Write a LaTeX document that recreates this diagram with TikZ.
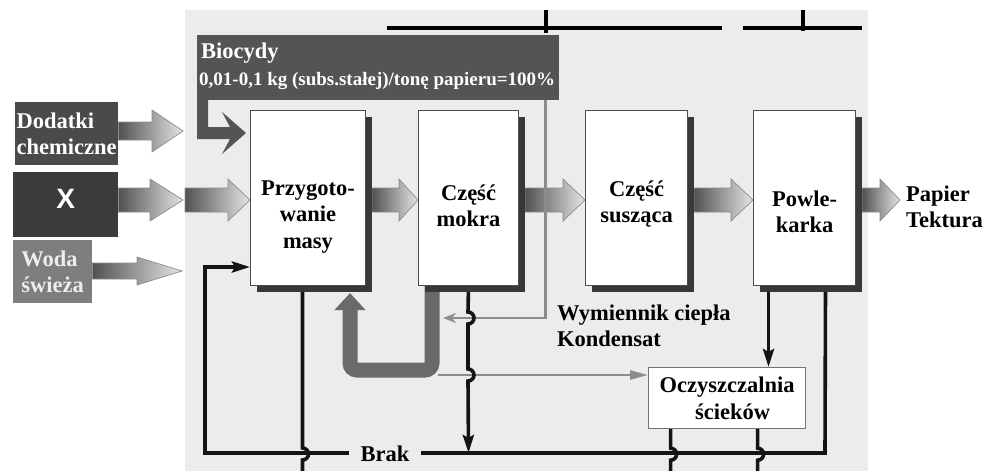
\documentclass[tikz,border=0pt]{standalone}
\usepackage{fontspec}
\setmainfont{Liberation Serif}
\newfontfamily\xsans{Liberation Sans}
\usetikzlibrary{arrows.meta,calc,shadows}
\pgfdeclarelayer{background}
\pgfdeclarelayer{behind}
\pgfsetlayers{background,behind,main}
\definecolor{bgc}{HTML}{ECECEC}
\definecolor{biofill}{HTML}{545454}
\definecolor{dodfill}{HTML}{4A4A4A}
\definecolor{xfill}{HTML}{3B3B3B}
\definecolor{wodafill}{HTML}{7E7E7E}
\definecolor{ugray}{HTML}{6A6A6A}
\definecolor{lgray}{HTML}{8C8C8C}
\newcommand\fatarrow[5]{%
  \path[fatarr] let \p1=#1, \p2=#2 in
    (\x1,\y2+#3) -- (\x2-#5,\y2+#3) -- (\x2-#5,\y2+#4) -- (\x2,\y2)
    -- (\x2-#5,\y2-#4) -- (\x2-#5,\y2-#3) -- (\x1,\y2-#3) -- cycle;}
\tikzset{
 txt/.style={font=\bfseries\fontsize{22.5}{26.5}\selectfont},
 mainbox/.style={draw=black!70, line width=1pt, fill=white, minimum height=175pt,
   anchor=north west, inner sep=0pt,
   drop shadow={shadow xshift=6pt, shadow yshift=-6pt, fill=black!78, opacity=1}},
 boxtext/.style={txt, align=center, inner sep=0pt},
 inbox/.style={anchor=north west, inner sep=0pt, txt, align=left},
 fatarr/.style={left color=black!68, right color=black!10, draw=black!45, line width=0.7pt},
 blk/.style={line width=3.6pt, black!92},
 blktip/.style={-{Stealth[length=18pt,width=11pt,inset=3pt]}},
 gline/.style={line width=2.6pt, lgray},
 uarrow/.style={line width=15pt, ugray, rounded corners=7pt, -{Triangle[width=30pt,length=17pt]}},
 topline/.style={line width=4.5pt, black},
}
\begin{document}
\begin{tikzpicture}[x=1pt,y=-1pt]
\useasboundingbox (0,0) rectangle (1001,471);
\begin{pgfonlayer}{background}
  \fill[bgc] (185,10) rectangle (868,471);
\end{pgfonlayer}

% main boxes
\node[mainbox, minimum width=115pt] (prz) at (250,110) {};
\node[mainbox, minimum width=100pt] (mok) at (418,110) {};
\node[mainbox, minimum width=102pt] (sus) at (585,110) {};
\node[mainbox, minimum width=102pt] (pow) at (753,110) {};
\node[boxtext] (prztxt) at ($(prz.center)+(0,19)$) {Przygoto-\\wanie\\masy};
\node[boxtext] (moktxt) at ($(mok.center)+(0,8)$) {Część\\mokra};
\node[boxtext] (sustxt) at ($(sus.center)+(0,6)$) {Część\\susząca};
\node[boxtext] (powtxt) at ($(pow.center)+(0,14)$) {Powle-\\karka};

% input boxes
\node[inbox, fill=dodfill, text=white, minimum width=103pt, minimum height=63pt] (dod) at (15,102) {Dodatki\\chemiczne};
\node[anchor=north west, fill=xfill, text=white, minimum width=105pt, minimum height=65pt, inner sep=0pt,
  font=\xsans\bfseries\fontsize{28}{30}\selectfont, text height=20pt, text depth=12pt] (xb) at (13,172) {X};
\node[inbox, fill=wodafill, text=black!7, minimum width=79pt, minimum height=63pt] (woda) at (13,240) {Woda\\świeża};

% biocydy
\node[anchor=north west, fill=biofill, minimum width=362pt, minimum height=65pt, inner sep=0pt] (bio) at (197,35) {};
\node[anchor=west, text=white, txt, inner sep=0pt] (bio1) at (201,53) {Biocydy};
\node[anchor=west, text=white, font=\bfseries\fontsize{19}{22}\selectfont, inner sep=0pt] (bio2) at (199,81) {0,01-0,1 kg (subs.stałej)/tonę papieru=100\%};
\fill[biofill] (197,100) -- (197,139) -- (230,139) -- (222,154) -- (246,133) -- (222,112) -- (230,127) -- (208,127) -- (208,100) -- cycle;

% other nodes
\node[anchor=north west, draw=black!55, line width=1.2pt, fill=white, minimum width=157pt, minimum height=61pt,
  inner sep=0pt, txt, align=center] (ocz) at (648,367) {Oczyszczalnia\\\hspace*{11pt}ścieków};
\node[txt, anchor=west, align=left, inner sep=0pt] (pap) at (906,207) {Papier\\Tektura};
\node[txt, anchor=west, align=left, inner sep=0pt] (wym) at (557,326) {Wymiennik ciepła\\Kondensat};
\node[txt, fill=bgc, inner xsep=12pt, inner ysep=1pt] (brak) at (385,454) {Brak};

\begin{pgfonlayer}{behind}
  % top lines
  \coordinate (t1a) at (387,28); \coordinate (t1b) at (722,28);
  \coordinate (t1c) at (546,10); \coordinate (t1d) at (546,33);
  \coordinate (t2a) at (743,28); \coordinate (t2b) at (862,28);
  \coordinate (t2c) at (803,10); \coordinate (t2d) at (803,31);
  \draw[topline] (t1a) -- (t1b);
  \draw[topline] (t1c) -- (t1d);
  \draw[topline] (t2a) -- (t2b);
  \draw[topline] (t2c) -- (t2d);

  % fat arrows
  \coordinate (dodE) at (183,131);
  \fatarrow{(dod.east)}{(dodE)}{9pt}{21pt}{31pt}
  \coordinate (xE) at (183,200);
  \fatarrow{(xb.east)}{(xE)}{12pt}{21pt}{33pt}
  \coordinate (xS) at (185,200);
  \fatarrow{(xS)}{(xS -| prz.west)}{12pt}{21pt}{22pt}
  \coordinate (wE) at (182,271);
  \fatarrow{(woda.east)}{(wE)}{8pt}{14pt}{45pt}
  \fatarrow{($(prz.east)+(6,0)$)}{(xS -| mok.west)}{12pt}{21pt}{19pt}
  \fatarrow{($(mok.east)+(6,0)$)}{(xS -| sus.west)}{12pt}{21pt}{22pt}
  \fatarrow{($(sus.east)+(6,0)$)}{(xS -| pow.west)}{12pt}{21pt}{22pt}
  \coordinate (outE) at (900,200);
  \fatarrow{($(pow.east)+(6,0)$)}{(outE)}{12pt}{21pt}{20pt}

  % thin gray from biocydy
  \coordinate (g1) at ($(bio.south east)+(-14,0)$);
  \coordinate (g2) at (443,318);
  \draw[gline, -{Stealth[length=13pt,width=10pt]}] (g1) -- (g1 |- g2) -- (g2);

  % thick gray U
  \coordinate (u1) at ($(mok.south west)+(14,0)$);
  \coordinate (u2) at (350,293);
  \draw[uarrow] (u1) -- (432,370) -- (350,370) -- (u2);

  % gray to Oczyszczalnia
  \coordinate (g3) at (438,375);
  \draw[gline, -{Triangle[length=18pt,width=9pt]}] (g3) -- (g3 -| ocz.west);

  % Brak loop
  \coordinate (bl1) at ($(pow.south)+(21,0)$);
  \coordinate (bl2) at (825,453);
  \coordinate (bl3) at (205,453);
  \coordinate (bl4) at (205,267);
  \draw[blk, blktip] (bl1) -- (bl2) -- (bl3) -- (bl4) -- (bl4 -| prz.west);

  % from Przygotowanie down
  \coordinate (pd) at ($(prz.south)+(-5.5,0)$);
  \draw[blk] (pd) -- ++(0,162) arc[start angle=90,end angle=-90,radius=6pt] -- ++(0,25);

  % from Czesc mokra down
  \draw[blk, blktip] (mok.south) -- (468,312) arc[start angle=90,end angle=-90,radius=6pt]
     -- (468,369) arc[start angle=90,end angle=-90,radius=6pt] -- (mok.south |- bl2);

  % Powlekarka -> Oczyszczalnia
  \coordinate (po) at ($(pow.south)+(-36,0)$);
  \draw[blk, blktip] (po) -- (po |- ocz.north);

  % from Oczyszczalnia down
  \coordinate (o1) at ($(ocz.south)+(-56.5,0)$);
  \coordinate (o2) at ($(ocz.south)+(30.5,0)$);
  \draw[blk] (o1) -- ++(0,19) arc[start angle=90,end angle=-90,radius=6pt] -- ++(0,25);
  \draw[blk] (o2) -- ++(0,19) arc[start angle=90,end angle=-90,radius=6pt] -- ++(0,25);
\end{pgfonlayer}
\end{tikzpicture}
\end{document}
